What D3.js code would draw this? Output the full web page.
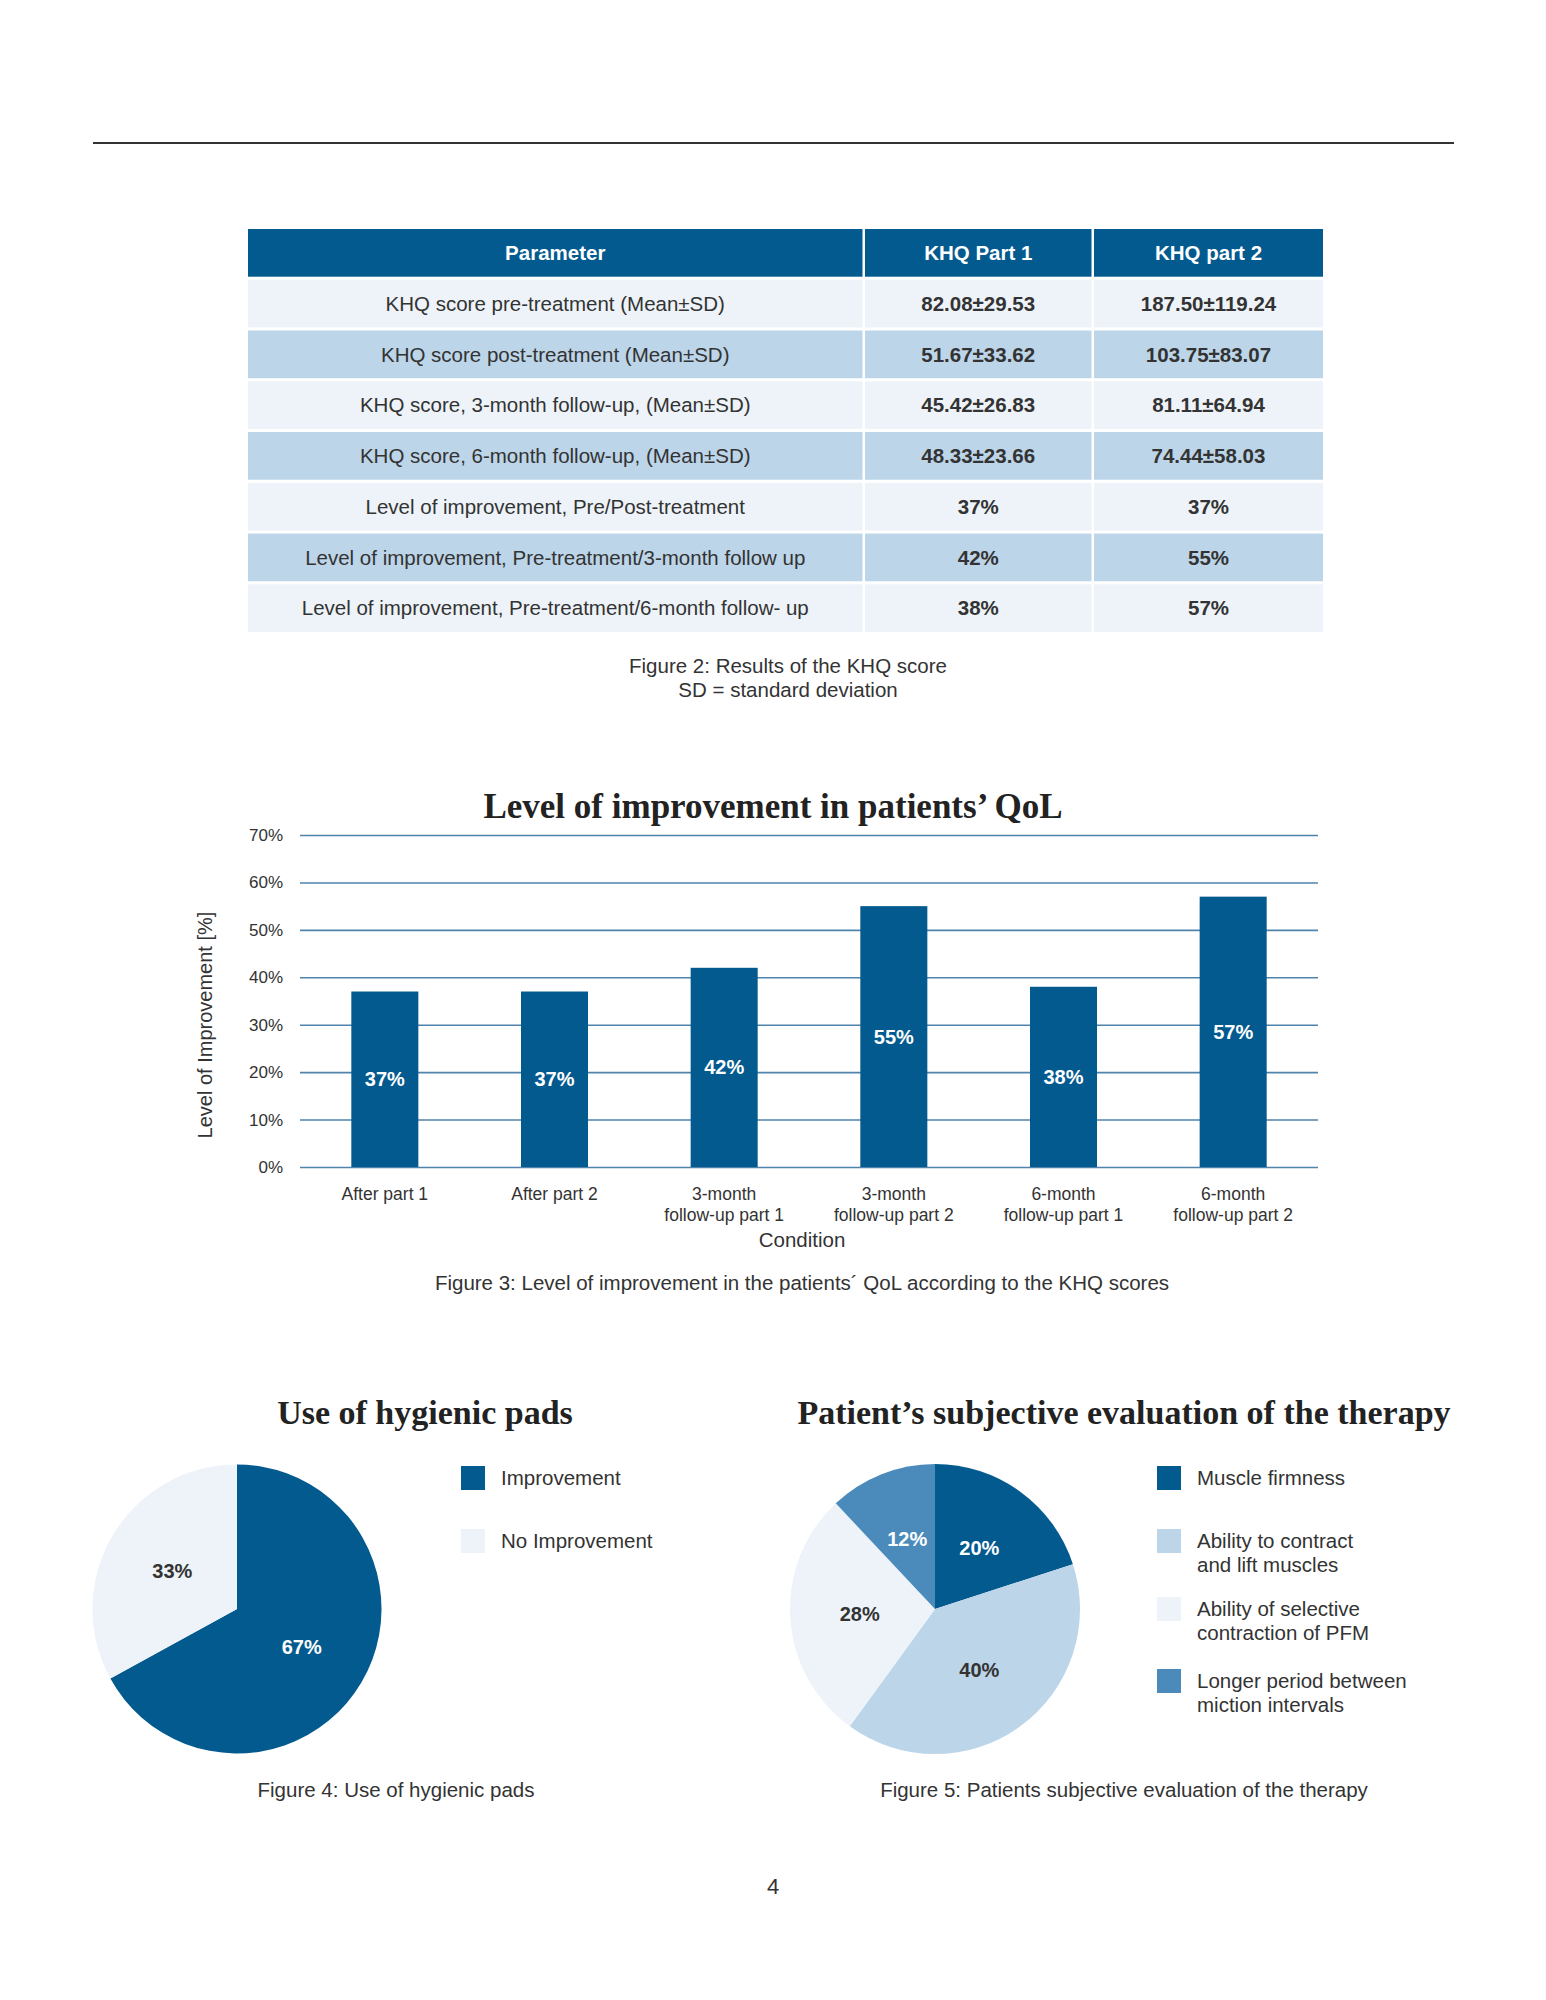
<!DOCTYPE html>
<html>
<head>
<meta charset="utf-8">
<script src="https://cdn.jsdelivr.net/npm/d3@7"></script>
<style>
  html, body { margin: 0; padding: 0; background: #ffffff; }
  svg { display: block; }
</style>
</head>
<body>
<script>
// ---------------- DATA ----------------
const tableHeaders = ["Parameter", "KHQ Part 1", "KHQ part 2"];
const tableParams = [
  "KHQ score pre-treatment (Mean±SD)",
  "KHQ score post-treatment (Mean±SD)",
  "KHQ score, 3-month follow-up, (Mean±SD)",
  "KHQ score, 6-month follow-up, (Mean±SD)",
  "Level of improvement, Pre/Post-treatment",
  "Level of improvement, Pre-treatment/3-month follow up",
  "Level of improvement, Pre-treatment/6-month follow- up"
];
const khqPart1 = ["82.08±29.53", "51.67±33.62", "45.42±26.83", "48.33±23.66", "37%", "42%", "38%"];
const khqPart2 = ["187.50±119.24", "103.75±83.07", "81.11±64.94", "74.44±58.03", "37%", "55%", "57%"];
const tableCaption = ["Figure 2: Results of the KHQ score", "SD = standard deviation"];

const barTitle = "Level of improvement in patients’ QoL";
const barCategories = [
  ["After part 1"],
  ["After part 2"],
  ["3-month", "follow-up part 1"],
  ["3-month", "follow-up part 2"],
  ["6-month", "follow-up part 1"],
  ["6-month", "follow-up part 2"]
];
const barValues = [37, 37, 42, 55, 38, 57];
const yTicks = [0, 10, 20, 30, 40, 50, 60, 70];
const yAxisTitle = "Level of Improvement [%]";
const xAxisTitle = "Condition";
const barCaption = "Figure 3: Level of improvement in the patients´ QoL according to the KHQ scores";

const padsTitle = "Use of hygienic pads";
const padsLabels = [["Improvement"], ["No Improvement"]];
const padsValues = [67, 33];
const padsCaption = "Figure 4: Use of hygienic pads";

const evalTitle = "Patient’s subjective evaluation of the therapy";
const evalLabels = [
  ["Muscle firmness"],
  ["Ability to contract", "and lift muscles"],
  ["Ability of selective", "contraction of PFM"],
  ["Longer period between", "miction intervals"]
];
const evalValues = [20, 40, 28, 12];
const evalCaption = "Figure 5: Patients subjective evaluation of the therapy";
const pageNumber = "4";

// ---------------- STYLE ----------------
const SANS = "'Liberation Sans', Arial, Helvetica, sans-serif";
const SERIF = "'Liberation Serif', 'Times New Roman', serif";
const DARK = "#035a8f";
const MID = "#bcd5e9";
const LIGHT = "#edf3f9";
const STEEL = "#4b8bbb";
const TEXT = "#333333";

const svg = d3.select("body").append("svg")
  .attr("width", 1546).attr("height", 2000)
  .style("background", "#fff");

// top rule
svg.append("line").attr("x1", 93).attr("x2", 1454).attr("y1", 143).attr("y2", 143)
  .attr("stroke", "#333").attr("stroke-width", 2);

// ---------------- TABLE ----------------
const colEdges = [248, 865, 1094, 1323];
const rowKeys = d3.range(tableParams.length + 1);
const rowScale = d3.scaleBand().domain(rowKeys).range([229, 632]).paddingInner(0.06);
const colScale = d3.scaleOrdinal().domain([0, 1, 2]).range(colEdges.slice(0, 3));
const colW = i => colEdges[i + 1] - colEdges[i] - (i < 2 ? 2.5 : 0);

const tableRows = rowKeys.map(r => r === 0
  ? tableHeaders
  : [tableParams[r - 1], khqPart1[r - 1], khqPart2[r - 1]]);

const tg = svg.append("g");
tableRows.forEach((cells, r) => {
  const fill = r === 0 ? DARK : (r % 2 === 1 ? LIGHT : MID);
  cells.forEach((txt, c) => {
    tg.append("rect")
      .attr("x", colScale(c)).attr("y", rowScale(r))
      .attr("width", colW(c)).attr("height", rowScale.bandwidth())
      .attr("fill", fill);
    tg.append("text")
      .attr("x", colScale(c) + colW(c) / 2)
      .attr("y", rowScale(r) + rowScale.bandwidth() / 2)
      .attr("dy", "0.35em")
      .attr("text-anchor", "middle")
      .attr("font-family", SANS)
      .attr("font-size", 20.5)
      .attr("font-weight", (r === 0 || c > 0) ? "bold" : "normal")
      .attr("fill", r === 0 ? "#ffffff" : TEXT)
      .text(txt);
  });
});
tableCaption.forEach((t, i) => {
  svg.append("text").attr("x", 788).attr("y", 673 + i * 24)
    .attr("text-anchor", "middle").attr("font-family", SANS)
    .attr("font-size", 20.5).attr("fill", TEXT).text(t);
});

// ---------------- BAR CHART ----------------
const x = d3.scaleBand().domain(d3.range(barValues.length)).range([300, 1318]).paddingInner(0.605).paddingOuter(0.3025);
const y = d3.scaleLinear().domain([0, 70]).range([1167, 835]);

svg.append("text").attr("x", 773).attr("y", 818).attr("text-anchor", "middle")
  .attr("font-family", SERIF).attr("font-weight", "bold").attr("font-size", 35)
  .attr("fill", "#222").text(barTitle);

const yAxis = svg.append("g").attr("transform", "translate(300,0)")
  .call(d3.axisLeft(y).tickValues(yTicks).tickFormat(d => d + "%").tickSize(-1018).tickPadding(17));
yAxis.select(".domain").remove();
yAxis.selectAll(".tick line").attr("stroke", "#4f84ad").attr("stroke-width", 1.6);
yAxis.selectAll(".tick text").attr("font-family", SANS).attr("font-size", 17).attr("fill", TEXT);

svg.append("g").selectAll("rect").data(barValues).join("rect")
  .attr("x", (d, i) => x(i)).attr("width", x.bandwidth())
  .attr("y", d => y(d)).attr("height", d => y(0) - y(d))
  .attr("fill", DARK);

svg.append("g").selectAll("text").data(barValues).join("text")
  .attr("x", (d, i) => x(i) + x.bandwidth() / 2)
  .attr("y", d => (y(d) + y(0)) / 2)
  .attr("dy", "0.35em").attr("text-anchor", "middle")
  .attr("font-family", SANS).attr("font-weight", "bold").attr("font-size", 20)
  .attr("fill", "#ffffff").text(d => d + "%");

const xl = svg.append("g");
barCategories.forEach((lines, i) => {
  lines.forEach((ln, j) => {
    xl.append("text")
      .attr("x", x(i) + x.bandwidth() / 2).attr("y", 1200 + j * 21)
      .attr("text-anchor", "middle").attr("font-family", SANS)
      .attr("font-size", 17.5).attr("fill", TEXT).text(ln);
  });
});
svg.append("text").attr("x", 802).attr("y", 1247).attr("text-anchor", "middle")
  .attr("font-family", SANS).attr("font-size", 20.5).attr("fill", TEXT).text(xAxisTitle);
svg.append("text").attr("transform", "translate(212,1025) rotate(-90)")
  .attr("text-anchor", "middle").attr("font-family", SANS).attr("font-size", 20)
  .attr("fill", TEXT).text(yAxisTitle);
svg.append("text").attr("x", 802).attr("y", 1290).attr("text-anchor", "middle")
  .attr("font-family", SANS).attr("font-size", 20.5).attr("fill", TEXT).text(barCaption);

// ---------------- PIES ----------------
function drawPie(cfg) {
  const g = svg.append("g").attr("transform", `translate(${cfg.cx},${cfg.cy})`);
  const pie = d3.pie().sort(null).value(d => d);
  const arcs = pie(cfg.values);
  const arc = d3.arc().innerRadius(0).outerRadius(cfg.r);
  const labelArc = d3.arc().innerRadius(cfg.r * 1.04).outerRadius(0);
  g.selectAll("path").data(arcs).join("path")
    .attr("d", arc).attr("fill", (d, i) => cfg.colors[i]);
  g.selectAll("text").data(arcs).join("text")
    .attr("transform", d => `translate(${labelArc.centroid(d)})`)
    .attr("dy", "0.35em").attr("text-anchor", "middle")
    .attr("font-family", SANS).attr("font-weight", "bold").attr("font-size", 20)
    .attr("fill", (d, i) => cfg.labelColors[i]).text(d => d.data + "%");

  svg.append("text").attr("x", cfg.titleX).attr("y", 1424).attr("text-anchor", "middle")
    .attr("font-family", SERIF).attr("font-weight", "bold").attr("font-size", 34)
    .attr("fill", "#222").text(cfg.title);

  const lg = svg.append("g");
  cfg.labels.forEach((lines, i) => {
    const ty = cfg.legendY[i];
    lg.append("rect").attr("x", cfg.legendX).attr("y", ty).attr("width", 24).attr("height", 24)
      .attr("fill", cfg.colors[i]);
    lines.forEach((ln, j) => {
      lg.append("text").attr("x", cfg.legendX + 40).attr("y", ty + 19 + j * 24)
        .attr("font-family", SANS).attr("font-size", 20.5).attr("fill", TEXT).text(ln);
    });
  });

  svg.append("text").attr("x", cfg.captionX).attr("y", 1797).attr("text-anchor", "middle")
    .attr("font-family", SANS).attr("font-size", 20.5).attr("fill", TEXT).text(cfg.caption);
}

drawPie({
  cx: 237, cy: 1609, r: 144.5,
  values: padsValues, labels: padsLabels,
  colors: [DARK, LIGHT], labelColors: ["#ffffff", TEXT],
  title: padsTitle, titleX: 425,
  legendX: 461, legendY: [1466, 1529],
  caption: padsCaption, captionX: 396
});

drawPie({
  cx: 935, cy: 1609, r: 145,
  values: evalValues, labels: evalLabels,
  colors: [DARK, MID, LIGHT, STEEL], labelColors: ["#ffffff", TEXT, TEXT, "#ffffff"],
  title: evalTitle, titleX: 1124,
  legendX: 1157, legendY: [1466, 1529, 1597, 1669],
  caption: evalCaption, captionX: 1124
});

svg.append("text").attr("x", 773).attr("y", 1894).attr("text-anchor", "middle")
  .attr("font-family", SANS).attr("font-size", 22).attr("fill", TEXT).text(pageNumber);
</script>
</body>
</html>
